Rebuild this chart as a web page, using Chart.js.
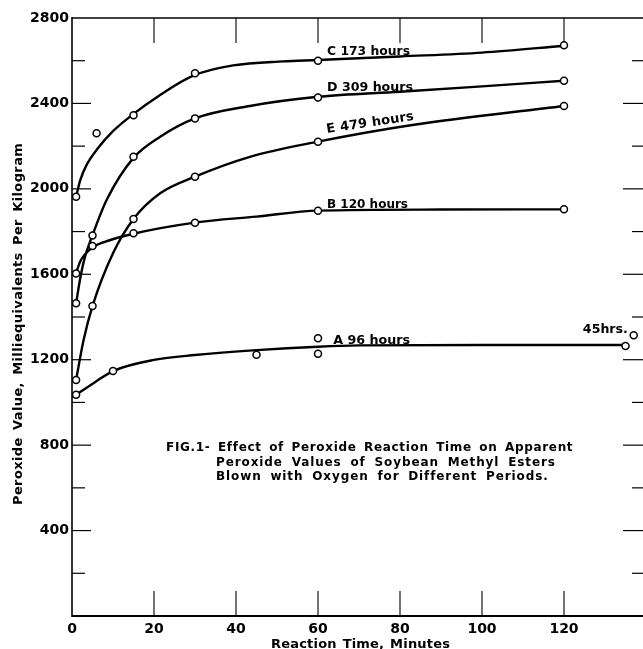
<!DOCTYPE html>
<html>
<head>
<meta charset="utf-8">
<script src="https://cdn.jsdelivr.net/npm/chart.js@4.4.1/dist/chart.umd.min.js"></script>
<style>
  html, body { margin: 0; padding: 0; overflow: hidden; background: #fff; }
  #wrap { width: 660px; height: 649px; }
</style>
</head>
<body>
<div id="wrap"><canvas id="c" width="660" height="649"></canvas></div>
<script>
// Peroxide value (meq/kg) against reaction time (minutes), soybean methyl esters
// blown with oxygen for different periods.

// Measured points
const timesA  = [1, 10, 45, 60, 60, 135];
const valuesA = [1036, 1147, 1223, 1228, 1301, 1264];
const timesB  = [1, 5, 15, 30, 60, 120];
const valuesB = [1604, 1732, 1792, 1841, 1898, 1904];
const timesC  = [1, 6, 15, 30, 60, 120];
const valuesC = [1963, 2260, 2345, 2541, 2600, 2672];
const timesD  = [1, 5, 15, 30, 60, 120];
const valuesD = [1464, 1782, 2150, 2330, 2428, 2506];
const timesE  = [1, 5, 15, 30, 60, 120];
const valuesE = [1105, 1451, 1859, 2057, 2221, 2388];
const times45h  = [137];
const values45h = [1315];

// Smoothed curves drawn through each set of points
const curveTimesA  = [1, 5.6, 10, 20, 30, 45, 60, 70, 100, 135];
const curveValuesA = [1036, 1095, 1147, 1199, 1222, 1245, 1261, 1267, 1269, 1269];
const curveTimesB  = [1, 2, 5, 8, 15, 30, 45, 60, 90, 120];
const curveValuesB = [1604, 1660, 1725, 1752, 1790, 1842, 1870, 1898, 1903, 1904];
const curveTimesC  = [1, 2, 3.5, 6.3, 10, 14.6, 21.5, 29.6, 39.3, 51.5, 60, 80, 100, 120];
const curveValuesC = [1963, 2040, 2110, 2190, 2270, 2345, 2440, 2530, 2578, 2597, 2603, 2620, 2638, 2670];
const curveTimesD  = [1, 2, 3, 5, 8.5, 15, 21.5, 30, 43.4, 60, 80, 100, 120];
const curveValuesD = [1464, 1580, 1670, 1783, 1950, 2145, 2244, 2330, 2388, 2431, 2455, 2480, 2506];
const curveTimesE  = [1, 2.8, 5, 10, 15, 21.5, 30, 43.4, 60, 83, 120];
const curveValuesE = [1105, 1290, 1451, 1698, 1859, 1979, 2057, 2150, 2221, 2299, 2388];

// Axis tick labels
const xTickLabels = [0, 20, 40, 60, 80, 100, 120];
const yTickLabels = [400, 800, 1200, 1600, 2000, 2400, 2800];

// Curve names
const seriesNames = ['A 96 hours', 'B 120 hours', 'C 173 hours', 'D 309 hours', 'E 479 hours', '45hrs.'];

const toXY = (xs, ys) => xs.map((t, i) => ({ x: t, y: ys[i] }));

const FONT = '"DejaVu Sans", "Liberation Sans", sans-serif';

function markerSet(xs, ys) {
  return {
    data: toXY(xs, ys), showLine: false, order: 0,
    pointRadius: 3.5, pointHoverRadius: 3.5, pointBorderWidth: 1.5,
    pointBackgroundColor: '#fff', pointBorderColor: '#000'
  };
}
function curveSet(xs, ys) {
  return {
    data: toXY(xs, ys), showLine: true, order: 1,
    borderColor: '#000', borderWidth: 2.4, pointRadius: 0,
    cubicInterpolationMode: 'monotone', fill: false
  };
}

// Text fitted to a given width (condensed, or widened with letter and word spacing)
function fitText(ctx, text, x, y, width) {
  ctx.letterSpacing = '0px';
  ctx.wordSpacing = '0px';
  const w = ctx.measureText(text).width;
  if (w > width) {
    ctx.fillText(text, x, y, width);
  } else {
    const extra = width - w;
    const gaps = (text.match(/ /g) || []).length;
    const wordShare = gaps > 0 ? 0.35 : 0;
    ctx.letterSpacing = (extra * (1 - wordShare) / Math.max(1, text.length - 1)).toFixed(2) + 'px';
    if (gaps > 0) ctx.wordSpacing = (extra * wordShare / gaps).toFixed(2) + 'px';
    ctx.fillText(text, x, y);
    ctx.letterSpacing = '0px';
    ctx.wordSpacing = '0px';
  }
}

// Curve label placements: name index, anchor time/value, width, rotation
const labelSpecs = [
  { i: 2, t: 62.2, v: 2627, w: 83, rot: 0 },
  { i: 3, t: 62.2, v: 2458, w: 86, rot: 0 },
  { i: 4, t: 62.2, v: 2261, w: 88, rot: -8.6 },
  { i: 1, t: 62.2, v: 1910, w: 81, rot: 0 },
  { i: 0, t: 63.7, v: 1274, w: 77, rot: 0 },
  { i: 5, t: 124.6, v: 1325, w: 45, rot: 0 }
];

const framePlugin = {
  id: 'frame',
  beforeDatasetsDraw(chart) {
    const { ctx, chartArea: a, scales: { x, y } } = chart;
    ctx.save();
    ctx.strokeStyle = '#000';
    ctx.lineCap = 'butt';
    const seg = (x1, y1, x2, y2, w) => {
      ctx.lineWidth = w; ctx.beginPath(); ctx.moveTo(x1, y1); ctx.lineTo(x2, y2); ctx.stroke();
    };
    // frame
    seg(a.left, a.top, a.right, a.top, 1.5);
    seg(a.left, a.top - 1, a.left, a.bottom + 1, 1.6);
    seg(a.left, a.bottom, a.right, a.bottom, 2);
    seg(a.right, a.top, a.right, a.bottom, 1.5);
    // inward tick marks on the value axis
    y.ticks.forEach(t => {
      if (t.value <= 0 || t.value >= 2800) return;
      const py = y.getPixelForValue(t.value);
      const major = t.value % 400 === 0;
      seg(a.left, py, a.left + (major ? 19 : 13), py, 1.2);
      seg(a.right, py, a.right - (major ? 23 : 14), py, 1.2);
    });
    // inward tick marks on the time axis
    x.ticks.forEach(t => {
      if (t.value <= 0 || t.value >= 140) return;
      const px = x.getPixelForValue(t.value);
      seg(px, a.top, px, a.top + 25, 1.1);
      seg(px, a.bottom, px, a.bottom - 25, 1.1);
    });
    ctx.restore();
  }
};

const textPlugin = {
  id: 'texts',
  afterDraw(chart) {
    const { ctx, scales: { x, y } } = chart;
    ctx.save();
    ctx.fillStyle = '#000';
    ctx.textBaseline = 'alphabetic';
    ctx.textAlign = 'left';

    // curve labels
    ctx.font = 'bold 13px ' + FONT;
    labelSpecs.forEach(s => {
      const px = x.getPixelForValue(s.t), py = y.getPixelForValue(s.v);
      ctx.save();
      ctx.translate(px, py);
      ctx.rotate(s.rot * Math.PI / 180);
      fitText(ctx, seriesNames[s.i], 0, 0, s.w);
      ctx.restore();
    });

    // figure caption
    ctx.font = 'bold 12px ' + FONT;
    fitText(ctx, 'FIG.1- Effect of Peroxide Reaction Time on Apparent', 166, 451, 406);
    fitText(ctx, 'Peroxide Values of Soybean Methyl Esters', 216, 465.5, 339);
    fitText(ctx, 'Blown with Oxygen for Different Periods.', 216, 480, 331);

    // axis titles
    ctx.font = 'bold 13px ' + FONT;
    fitText(ctx, 'Reaction Time, Minutes', 271, 648, 179);
    ctx.save();
    ctx.translate(22, 505);
    ctx.rotate(-Math.PI / 2);
    fitText(ctx, 'Peroxide Value, Milliequivalents Per Kilogram', 0, 0, 362);
    ctx.restore();
    ctx.restore();
  }
};

new Chart(document.getElementById('c'), {
  type: 'scatter',
  data: {
    datasets: [
      curveSet(curveTimesA, curveValuesA),
      curveSet(curveTimesB, curveValuesB),
      curveSet(curveTimesC, curveValuesC),
      curveSet(curveTimesD, curveValuesD),
      curveSet(curveTimesE, curveValuesE),
      markerSet(timesA, valuesA),
      markerSet(timesB, valuesB),
      markerSet(timesC, valuesC),
      markerSet(timesD, valuesD),
      markerSet(timesE, valuesE),
      markerSet(times45h, values45h)
    ]
  },
  options: {
    responsive: false,
    animation: false,
    events: [],
    layout: { padding: { left: 0, top: 18, right: 14, bottom: 0 } },
    plugins: { legend: { display: false }, tooltip: { enabled: false } },
    scales: {
      x: {
        type: 'linear', min: 0, max: 140,
        afterFit: s => { s.height = 33; },
        border: { display: false },
        grid: { display: false, drawTicks: false },
        ticks: {
          stepSize: 20, autoSkip: false, maxRotation: 0, padding: 5, color: '#000',
          font: { family: FONT, size: 14, weight: 'bold' },
          callback: v => xTickLabels.includes(v) ? String(v) : ''
        }
      },
      y: {
        type: 'linear', min: 0, max: 2800,
        afterFit: s => { s.width = 72; },
        border: { display: false },
        grid: { display: false, drawTicks: false },
        ticks: {
          stepSize: 200, autoSkip: false, padding: 3, color: '#000',
          font: { family: FONT, size: 14, weight: 'bold' },
          callback: v => yTickLabels.includes(v) ? String(v) : ''
        }
      }
    }
  },
  plugins: [framePlugin, textPlugin]
});
</script>
</body>
</html>
